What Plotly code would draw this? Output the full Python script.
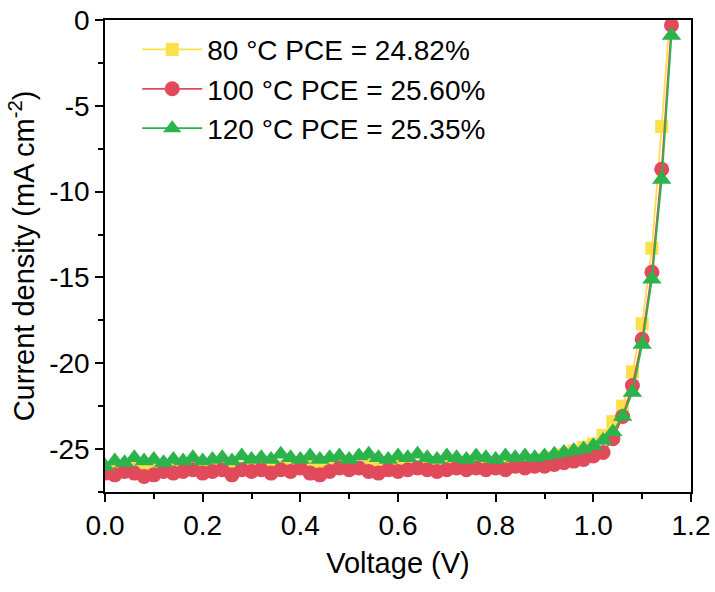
import plotly.graph_objects as go

voltage = [round(0.02 * i, 2) for i in range(59)]

j_80 = [-26.1, -26.2, -26.0, -26.1, -26.2, -26.1, -26.2, -26.0, -26.1, -26.0,
        -26.1, -26.0, -26.1, -26.0, -26.1, -26.0, -26.1, -25.9, -26.0, -26.1,
        -25.9, -26.0, -26.1, -26.0, -25.9, -26.0, -26.1, -25.9, -26.0, -26.1,
        -26.0, -25.9, -26.0, -26.1, -25.9, -26.0, -25.9, -26.0, -25.9, -26.0,
        -25.9, -25.8, -25.9, -25.8, -25.7, -25.6, -25.5, -25.3, -25.1, -24.9,
        -24.7, -24.2, -23.4, -22.5, -20.5, -17.7, -13.3, -6.2, 1.5]

j_100 = [-26.4, -26.5, -26.3, -26.4, -26.6, -26.5, -26.3, -26.4, -26.3, -26.2,
         -26.4, -26.3, -26.2, -26.5, -26.2, -26.3, -26.2, -26.4, -26.2, -26.3,
         -26.1, -26.4, -26.5, -26.3, -26.1, -26.2, -26.1, -26.3, -26.4, -26.2,
         -26.3, -26.2, -26.1, -26.2, -26.3, -26.2, -26.1, -26.2, -26.1, -26.2,
         -26.1, -26.2, -26.0, -26.1, -26.0, -26.0, -25.9, -25.8, -25.7, -25.6,
         -25.4, -25.2, -24.4, -23.1, -21.3, -18.6, -14.7, -8.7, -0.3]

j_120 = [-26.0, -25.7, -25.8, -25.5, -25.7, -25.6, -25.8, -25.6, -25.7, -25.5,
         -25.7, -25.6, -25.5, -25.7, -25.4, -25.6, -25.5, -25.6, -25.3, -25.5,
         -25.6, -25.4, -25.6, -25.5, -25.4, -25.6, -25.4, -25.3, -25.5, -25.6,
         -25.4, -25.5, -25.3, -25.5, -25.6, -25.4, -25.5, -25.6, -25.4, -25.5,
         -25.6, -25.4, -25.5, -25.4, -25.5, -25.4, -25.3, -25.2, -25.1, -25.0,
         -24.8, -24.5, -24.0, -23.1, -21.7, -18.9, -15.1, -9.3, -0.9]

names = ["80 °C PCE = 24.82%", "100 °C PCE = 25.60%", "120 °C PCE = 25.35%"]
colors = ["#FBE04A", "#E04A5A", "#2DB34B"]
symbols = ["square", "circle", "triangle-up"]
sizes = [13, 15, 17]

y_tick_vals = [0, -5, -10, -15, -20, -25]
y_tick_text = ["0", "-5", "-10", "-15", "-20", "-25"]
x_tick_vals = [0.0, 0.2, 0.4, 0.6, 0.8, 1.0, 1.2]
x_tick_text = ["0.0", "0.2", "0.4", "0.6", "0.8", "1.0", "1.2"]

FONT = "Liberation Sans"

fig = go.Figure()
for ys, nm, c, s, sz in zip([j_80, j_100, j_120], names, colors, symbols, sizes):
    fig.add_trace(go.Scatter(
        x=voltage, y=ys, name=nm, mode="lines+markers",
        line=dict(color=c, width=1.8),
        marker=dict(color=c, symbol=s, size=sz, line=dict(width=0)),
    ))

axis_common = dict(
    showline=True, linecolor="black", linewidth=1.6, mirror=True,
    ticks="outside", ticklen=8, tickwidth=1.5, tickcolor="black",
    showgrid=False, zeroline=False, automargin=False,
    tickfont=dict(family=FONT, size=28, color="black"),
)

fig.update_xaxes(
    range=[0, 1.2], tickvals=x_tick_vals, ticktext=x_tick_text,
    minor=dict(ticks="outside", ticklen=5, tickwidth=1.5, tickcolor="black", dtick=0.1, tick0=0),
    title=dict(text="Voltage (V)", font=dict(family=FONT, size=29, color="black"), standoff=12),
    **axis_common,
)
fig.update_yaxes(
    range=[-27.5, 0], tickvals=y_tick_vals, ticktext=y_tick_text,
    minor=dict(ticks="outside", ticklen=5, tickwidth=1.5, tickcolor="black", dtick=2.5, tick0=0),
    title=dict(text="Current density (mA cm<sup>-2</sup>)", font=dict(family=FONT, size=29, color="black"), standoff=6),
    **axis_common,
)

fig.update_layout(
    width=715, height=592,
    margin=dict(l=105, r=24, t=20, b=100),
    paper_bgcolor="white", plot_bgcolor="white",
    showlegend=True,
    legend=dict(
        x=0.055, y=0.99, xanchor="left", yanchor="top",
        bgcolor="rgba(0,0,0,0)",
        font=dict(family=FONT, size=28, color="black"),
        itemwidth=60, tracegroupgap=0,
    ),
)

fig.write_html("out.html")
